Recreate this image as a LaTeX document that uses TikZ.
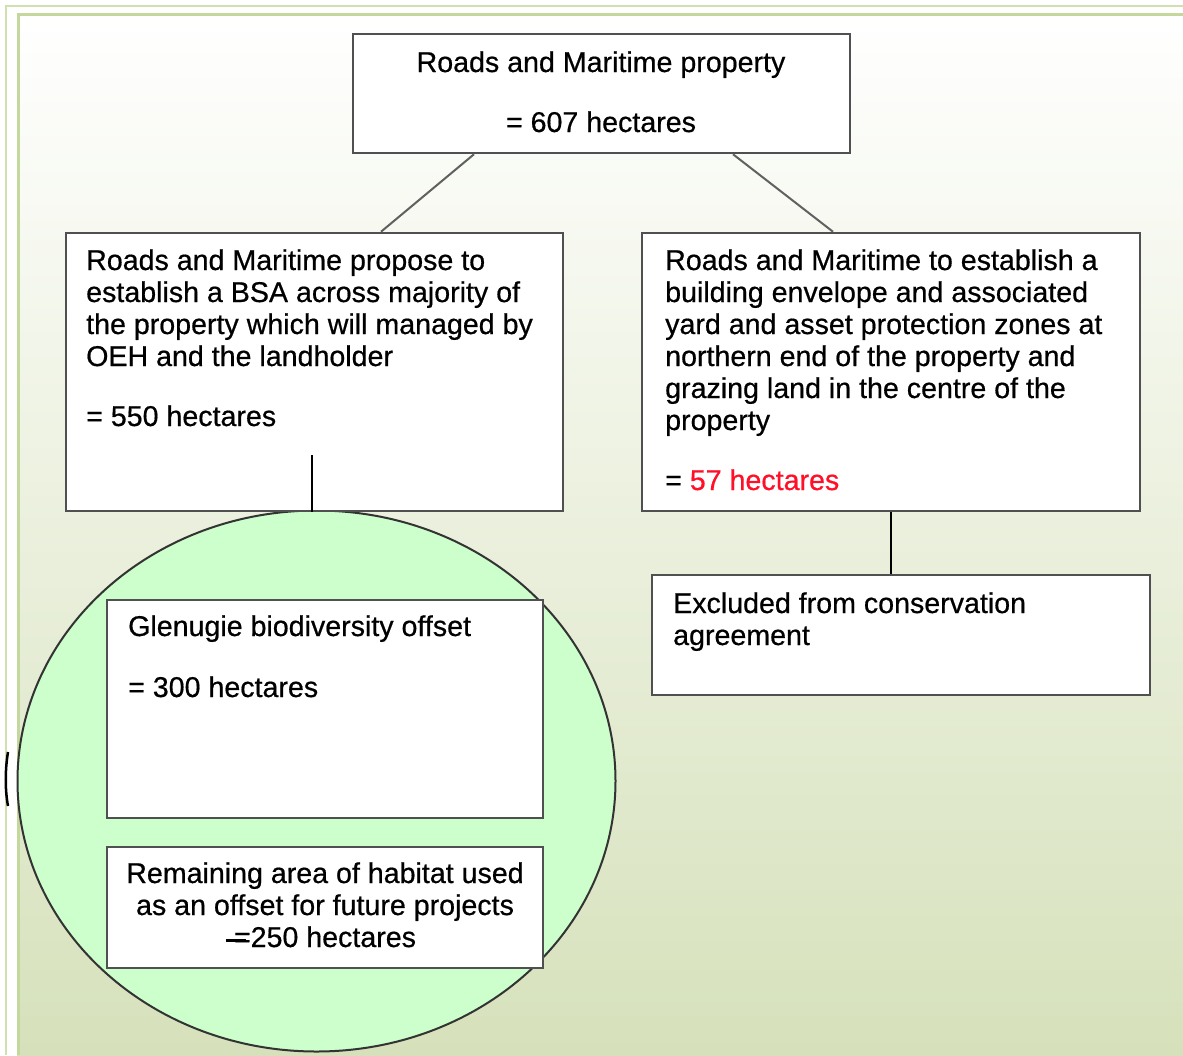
\documentclass[tikz,border=0pt]{standalone}
\usepackage{fontspec}
\setmainfont{Liberation Sans}[FakeBold=0.6]
\usetikzlibrary{shapes.geometric}
\definecolor{bgbot}{RGB}{214,225,187}
\definecolor{bordouter}{RGB}{208,224,176}
\definecolor{bordinner}{RGB}{196,215,156}
\definecolor{circfill}{RGB}{204,255,204}
\definecolor{boxline}{RGB}{80,80,80}
\definecolor{hred}{RGB}{255,16,40}
\begin{document}
\begin{tikzpicture}[x=1pt,y=-1pt,
  boxnode/.style={draw=boxline, fill=white, line width=2.5pt, inner sep=0pt, rectangle},
  txt/.style={inner sep=0pt, anchor=base west, text=black, font=\fontsize{28.6}{32}\selectfont},
  ctxt/.style={txt, anchor=base},
  thinconn/.style={draw=black!62, line width=2pt},
  vconn/.style={draw=black, line width=2.6pt}]
\useasboundingbox (0,0) rectangle (1183,1055);
\fill[white] (0,0) rectangle (1183,1055);
\shade[top color=white, bottom color=bgbot] (17,14) rectangle (1183,1055);
\draw[bordouter, line width=2pt] (5.5,1055) -- (5.5,5.5) -- (1183,5.5);
\draw[bordinner, line width=3pt] (18,1055) -- (18,14.5) -- (1183,14.5);
% stray arc at left edge
\draw[black, line width=2.5pt] (8,752) .. controls (5,770) and (5,790) .. (8,806);
% ellipse
\node[ellipse, draw=black!80, fill=circfill, line width=2pt, minimum width=598pt, minimum height=541pt, inner sep=0pt] (circ) at (316.5,781) {};
% boxes
\node[boxnode, minimum width=497pt, minimum height=119pt] (top) at (601.5,93.5) {};
\node[boxnode, minimum width=497pt, minimum height=278pt] (left) at (314.5,372) {};
\node[boxnode, minimum width=498pt, minimum height=278pt] (right) at (891,372) {};
\node[boxnode, minimum width=498pt, minimum height=120pt] (excl) at (901,635) {};
\node[boxnode, minimum width=436pt, minimum height=218pt] (glen) at (325,709) {};
\node[boxnode, minimum width=436pt, minimum height=121pt] (rem) at (325,907.5) {};
% connectors
\draw[thinconn] ([xshift=-127.5pt]top.south) -- ([xshift=66.5pt]left.north);
\draw[thinconn] ([xshift=131.5pt]top.south) -- ([xshift=-58pt]right.north);
\coordinate (lstart) at (312,455);
\draw[vconn] (lstart) -- (lstart |- left.south);
\draw[vconn] (right.south) -- (right.south |- excl.north);
% texts
\node[ctxt] (t1) at (601,72) {Roads and Maritime property};
\node[ctxt] (t2) at (601,132) {= 607 hectares};
\node[txt] (l1) at (86,270) {Roads and Maritime propose to};
\node[txt] (l2) at (86,302) {establish a BSA across majority of};
\node[txt] (l3) at (86,334) {the property which will managed by};
\node[txt] (l4) at (86,366) {OEH and the landholder};
\node[txt] (l5) at (86,426) {= 550 hectares};
\node[txt] (r1) at (665,270) {Roads and Maritime to establish a};
\node[txt] (r2) at (665,302) {building envelope and associated};
\node[txt] (r3) at (665,334) {yard and asset protection zones at};
\node[txt] (r4) at (665,366) {northern end of the property and};
\node[txt] (r5) at (665,398) {grazing land in the centre of the};
\node[txt] (r6) at (665,430) {property};
\node[txt] (r7) at (665,490) {= \textcolor{hred}{57 hectares}};
\node[txt] (e1) at (673,613) {Excluded from conservation};
\node[txt] (e2) at (673,645) {agreement};
\node[txt] (g1) at (128,636) {Glenugie biodiversity offset};
\node[txt] (g2) at (128,697) {= 300 hectares};
\node[ctxt] (m1) at (325,883) {Remaining area of habitat used};
\node[ctxt] (m2) at (325,915) {as an offset for future projects};
\node[ctxt] (m3) at (325,947) {\rlap{\kern-8pt\rule[5.5pt]{20pt}{2.5pt}}=250 hectares};
\end{tikzpicture}
\end{document}
